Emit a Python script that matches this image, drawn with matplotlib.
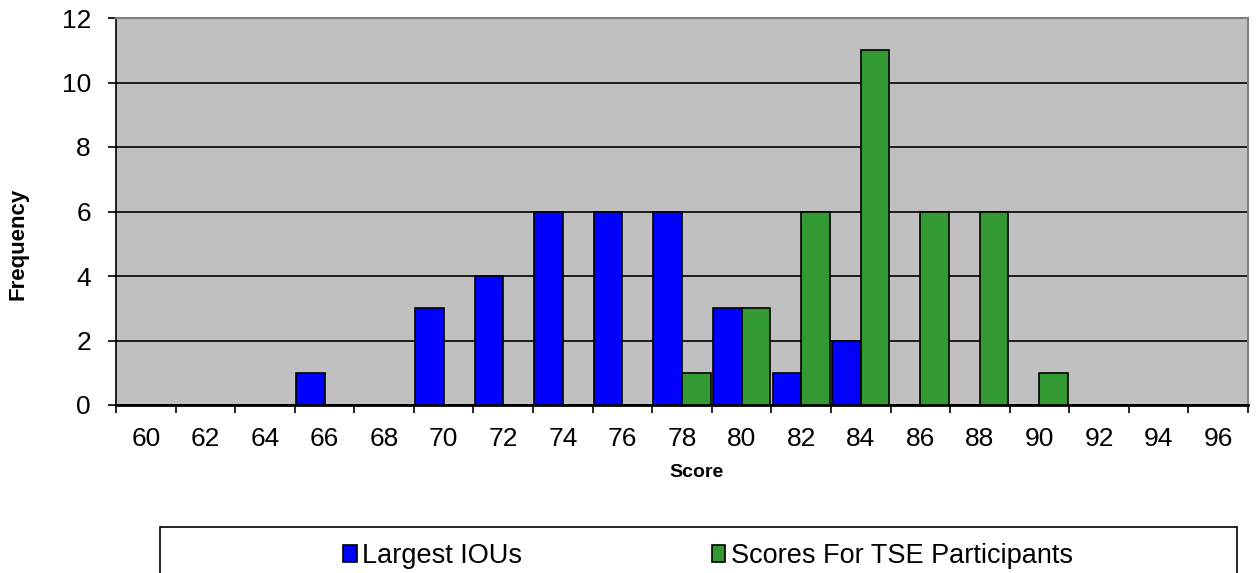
import numpy as np
import matplotlib
matplotlib.use("Agg")
import matplotlib.pyplot as plt
from matplotlib.patches import Rectangle

plt.rcParams['font.family'] = ['Liberation Sans', 'DejaVu Sans']

# data
scores = [60, 62, 64, 66, 68, 70, 72, 74, 76, 78, 80, 82, 84, 86, 88, 90, 92, 94, 96]
largest_ious = [0, 0, 0, 1, 0, 3, 4, 6, 6, 6, 3, 1, 2, 0, 0, 0, 0, 0, 0]
tse_scores = [0, 0, 0, 0, 0, 0, 0, 0, 0, 1, 3, 6, 11, 6, 6, 1, 0, 0, 0]

fig = plt.figure(figsize=(12.56, 5.73), dpi=100)
ax = fig.add_axes([116/1256, 1-405/573, (1248-116)/1256, (405-18)/573])
ax.set_facecolor('#c0c0c0')

x = np.arange(len(scores))
w = 0.48
ax.bar(x - w/2, largest_ious, w, color='#0000ff', edgecolor='black', linewidth=1.2,
       label='Largest IOUs', zorder=3)
ax.bar(x + w/2, tse_scores, w, color='#339933', edgecolor='black', linewidth=1.2,
       label='Scores For TSE Participants', zorder=3)

ax.set_xlim(-0.5, len(scores) - 0.5)
ax.set_ylim(0, 12)
ax.set_yticks(range(0, 13, 2))
ax.yaxis.grid(True, color='black', linewidth=1.2, zorder=1)

# labels at centers, tick marks between categories
ax.set_xticks(x)
ax.set_xticklabels([str(s) for s in scores], fontsize=19)
ax.tick_params(axis='x', which='major', length=0, pad=16)
ax.set_xticks(np.arange(-0.5, len(scores)), minor=True)
ax.tick_params(axis='x', which='minor', length=6, width=1.2, direction='out')
ax.tick_params(axis='y', labelsize=19, length=6, width=1.2, pad=12)

ax.spines['bottom'].set_linewidth(2)
ax.spines['left'].set_linewidth(1.2)
for s in ['top', 'right']:
    ax.spines[s].set_color('#808080')
    ax.spines[s].set_linewidth(1.5)

ax.set_xlabel('Score', fontsize=14, fontweight='bold')
ax.xaxis.set_label_coords((697-116)/1132, -(464-405)/387)
ax.set_ylabel('Frequency', fontsize=16, fontweight='bold')
ax.yaxis.set_label_coords(-(116-29)/1132, (405-244)/387)

# legend box running off the bottom of the figure
fig.patches.append(Rectangle((160/1256, -0.1), (1237-160)/1256, 1-527/573+0.1,
                             transform=fig.transFigure, fill=False,
                             edgecolor='black', linewidth=1.2, clip_on=False))
h, l = ax.get_legend_handles_labels()
fig.legend(h, l, loc='center', bbox_to_anchor=(708/1256, 1-556/573), ncol=2,
           frameon=False, fontsize=19.5, handlelength=0.5, handleheight=0.55,
           handletextpad=0.2, columnspacing=7.0)

fig.savefig('out.png', dpi=100)
